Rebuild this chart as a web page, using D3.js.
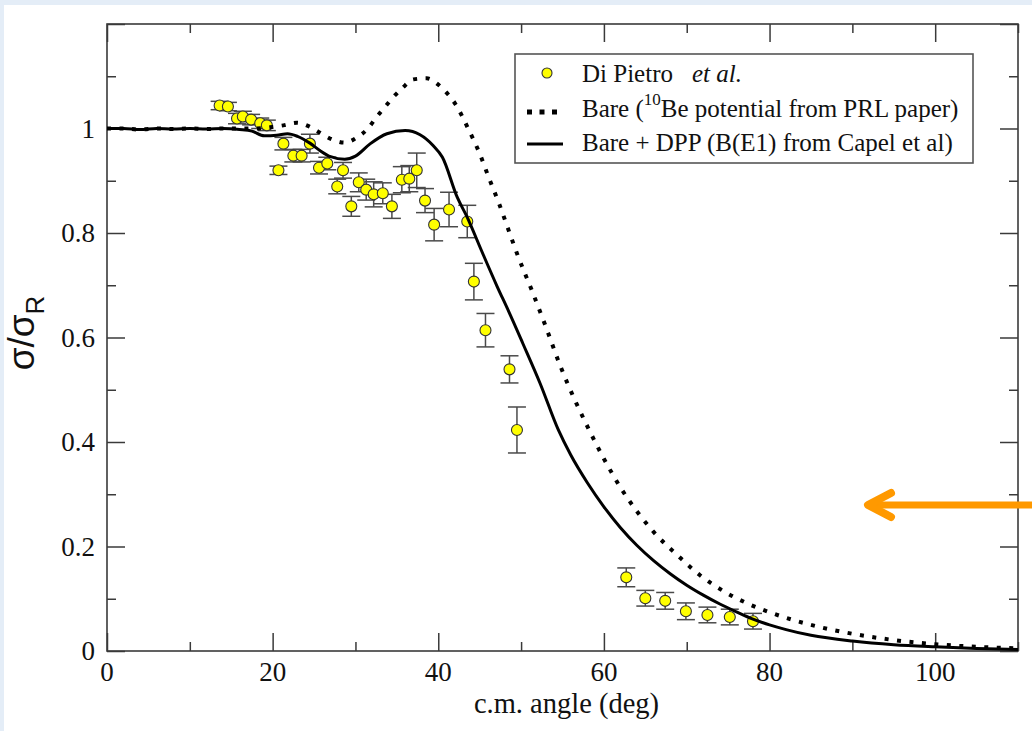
<!DOCTYPE html>
<html>
<head>
<meta charset="utf-8">
<script src="https://cdn.jsdelivr.net/npm/d3@7/dist/d3.min.js"></script>
<style>
  html, body { margin: 0; padding: 0; background: #ffffff; }
  svg { display: block; }
</style>
</head>
<body>
<svg id="chart" width="1032" height="731"></svg>
<script>
// ---------- data ----------
const expAngle = [13.6,14.6,15.7,16.4,17.4,18.5,19.3,20.7,21.3,22.5,23.5,24.5,25.6,26.6,27.8,28.5,29.5,30.4,31.3,32.2,33.3,34.4,35.6,36.5,37.4,38.4,39.5,41.3,43.5,44.3,45.7,48.6,49.5,62.7,65.0,67.4,69.9,72.5,75.2,78.0];
const expRatio = [1.044,1.042,1.019,1.023,1.017,1.010,1.006,0.920,0.971,0.948,0.948,0.971,0.925,0.933,0.889,0.920,0.851,0.897,0.883,0.874,0.876,0.851,0.902,0.904,0.920,0.862,0.816,0.845,0.822,0.707,0.614,0.539,0.423,0.141,0.101,0.096,0.076,0.069,0.065,0.057];
const expError = [0.008,0.008,0.010,0.010,0.010,0.010,0.010,0.008,0.012,0.012,0.012,0.018,0.012,0.012,0.014,0.015,0.019,0.018,0.020,0.024,0.020,0.023,0.025,0.025,0.033,0.023,0.031,0.033,0.031,0.035,0.032,0.026,0.044,0.018,0.015,0.016,0.016,0.015,0.015,0.015];

const bareAngle = [0,2,4,6,8,10,12,14,16,18,20,21.3,22.9,24.4,25.7,27.2,28.7,30.2,31.5,32.5,33.5,34.5,35.7,37,38.6,40,41.2,42.1,42.9,43.6,44.3,45,46.1,47.3,48.5,49.5,51.3,53,54.7,56.5,58,60,62,64,66,69.1,71.6,74.4,77.2,80.2,85,90,95,100,105,110];
const bareRatio = [1.0,1.0,0.998,1.0,0.999,1.0,0.999,1.0,1.0,1.0,1.003,1.006,1.011,1.004,0.992,0.979,0.973,0.983,1.0,1.021,1.04,1.059,1.078,1.094,1.096,1.084,1.065,1.046,1.023,1.0,0.977,0.952,0.906,0.858,0.805,0.761,0.69,0.62,0.547,0.48,0.43,0.368,0.313,0.267,0.228,0.18,0.145,0.115,0.092,0.073,0.05,0.033,0.021,0.013,0.008,0.005];

const dppAngle = [0,2,4,6,8,10,12,14,16,17.5,19,20.5,21.8,23,24.5,25.7,27,28.7,30,31.8,33.8,36,37.8,39.4,40.5,42.3,43.5,45.2,47.1,48.5,50.2,52.3,54.5,56,58,60,62,64,66,68,70,72,74,76,78,80,82,85,90,95,100,105,110];
const dppRatio = [1.0,1.0,0.998,1.0,0.999,1.0,0.999,1.0,0.998,0.995,0.986,0.987,0.99,0.985,0.972,0.958,0.946,0.941,0.947,0.971,0.99,0.996,0.988,0.967,0.945,0.868,0.83,0.767,0.698,0.65,0.589,0.512,0.423,0.375,0.322,0.276,0.236,0.202,0.173,0.148,0.126,0.107,0.09,0.075,0.061,0.05,0.041,0.03,0.019,0.012,0.008,0.005,0.003];

const xMajorTicks = [0,20,40,60,80,100];
const xMinorTicks = [10,30,50,70,90,110];
const yMajorTicks = [0,0.2,0.4,0.6,0.8,1.0,1.2];
const yMinorTicks = [0.1,0.3,0.5,0.7,0.9,1.1];
const yTickLabels = ["0","0.2","0.4","0.6","0.8","1"];
const legendLabels = ["Di Pietro", "Bare (", "Bare + DPP (B(E1) from Capel et al)"];

// ---------- layout ----------
const svg = d3.select("#chart");
const W = 1032, H = 731;
const L = 107, R = 1018, T = 24, B = 651;
const serif = "'Liberation Serif', 'Times New Roman', serif";
const axisColor = "#3a3a3a";

// background frame
svg.append("rect").attr("x",0).attr("y",0).attr("width",W).attr("height",H).attr("fill","#e4edf7");
svg.append("rect").attr("x",4).attr("y",5).attr("width",W-4).attr("height",H-5).attr("fill","#ffffff");

const x = d3.scaleLinear().domain([0,110]).range([L,R]);
const y = d3.scaleLinear().domain([0,1.2]).range([B,T]);

// ---------- axes (inward ticks on all four sides) ----------
function styleAxis(g){
  g.selectAll("path").remove();
  g.selectAll("line").attr("stroke",axisColor).attr("stroke-width",1.5);
  g.selectAll("text").remove();
}
svg.append("g").attr("transform",`translate(0,${B})`).call(d3.axisBottom(x).tickValues(xMajorTicks).tickSize(-18)).call(styleAxis);
svg.append("g").attr("transform",`translate(0,${B})`).call(d3.axisBottom(x).tickValues(xMinorTicks).tickSize(-9)).call(styleAxis);
svg.append("g").attr("transform",`translate(0,${T})`).call(d3.axisTop(x).tickValues(xMajorTicks).tickSize(-18)).call(styleAxis);
svg.append("g").attr("transform",`translate(0,${T})`).call(d3.axisTop(x).tickValues(xMinorTicks).tickSize(-9)).call(styleAxis);
svg.append("g").attr("transform",`translate(${L},0)`).call(d3.axisLeft(y).tickValues(yMajorTicks).tickSize(-18)).call(styleAxis);
svg.append("g").attr("transform",`translate(${L},0)`).call(d3.axisLeft(y).tickValues(yMinorTicks).tickSize(-9)).call(styleAxis);
svg.append("g").attr("transform",`translate(${R},0)`).call(d3.axisRight(y).tickValues(yMajorTicks).tickSize(-18)).call(styleAxis);
svg.append("g").attr("transform",`translate(${R},0)`).call(d3.axisRight(y).tickValues(yMinorTicks).tickSize(-9)).call(styleAxis);

svg.append("rect").attr("x",L).attr("y",T).attr("width",R-L).attr("height",B-T)
  .attr("fill","none").attr("stroke",axisColor).attr("stroke-width",1.6);

// tick labels
svg.append("g").selectAll("text").data(xMajorTicks).join("text")
  .attr("x",d=>x(d)).attr("y",681).attr("text-anchor","middle")
  .attr("font-family",serif).attr("font-size",27).attr("fill","#111")
  .text(d=>d);
svg.append("g").selectAll("text").data(yTickLabels).join("text")
  .attr("x",95).attr("y",(d,i)=>y(yMajorTicks[i])).attr("dy","0.35em").attr("text-anchor","end")
  .attr("font-family",serif).attr("font-size",27).attr("fill","#111")
  .text(d=>d);

// axis titles
svg.append("text").attr("x",(L+R)/2+4).attr("y",713).attr("text-anchor","middle")
  .attr("font-family",serif).attr("font-size",28.5).attr("fill","#111")
  .text("c.m. angle (deg)");
const yt = svg.append("text").attr("transform","translate(34,333) rotate(-90)")
  .attr("text-anchor","middle").attr("font-family","'Liberation Sans', Arial, sans-serif")
  .attr("font-size",37).attr("fill","#111");
yt.append("tspan").text("σ/σ");
yt.append("tspan").attr("dy",10).attr("font-size",26).text("R");

// ---------- data marks ----------
const pts = expAngle.map((a,i)=>({a, r: expRatio[i], e: expError[i]}));
const eb = svg.append("g").attr("stroke","#4a4a4a").attr("stroke-width",1.5);
eb.selectAll("line.v").data(pts).join("line").attr("class","v")
  .attr("x1",d=>x(d.a)).attr("x2",d=>x(d.a)).attr("y1",d=>y(d.r+d.e)).attr("y2",d=>y(d.r-d.e));
eb.selectAll("line.t").data(pts).join("line").attr("class","t")
  .attr("x1",d=>x(d.a)-9).attr("x2",d=>x(d.a)+9).attr("y1",d=>y(d.r+d.e)).attr("y2",d=>y(d.r+d.e));
eb.selectAll("line.b").data(pts).join("line").attr("class","b")
  .attr("x1",d=>x(d.a)-9).attr("x2",d=>x(d.a)+9).attr("y1",d=>y(d.r-d.e)).attr("y2",d=>y(d.r-d.e));
svg.append("g").selectAll("circle").data(pts).join("circle")
  .attr("cx",d=>x(d.a)).attr("cy",d=>y(d.r)).attr("r",5.5)
  .attr("fill","#ffff00").attr("stroke","#333").attr("stroke-width",1.1);

const line = d3.line().x(d=>x(d[0])).y(d=>y(d[1])).curve(d3.curveMonotoneX);
svg.append("path").datum(bareAngle.map((a,i)=>[a,bareRatio[i]]))
  .attr("d",line).attr("fill","none").attr("stroke","#000").attr("stroke-width",4)
  .attr("stroke-dasharray","4 8.5");
svg.append("path").datum(dppAngle.map((a,i)=>[a,dppRatio[i]]))
  .attr("d",line).attr("fill","none").attr("stroke","#000").attr("stroke-width",3);

// ---------- legend ----------
const lg = svg.append("g");
lg.append("rect").attr("x",515).attr("y",54).attr("width",458).attr("height",109)
  .attr("fill","#fff").attr("stroke","#555").attr("stroke-width",1.6);
lg.append("circle").attr("cx",547).attr("cy",73).attr("r",5).attr("fill","#ffff00").attr("stroke","#333").attr("stroke-width",1.1);
lg.append("line").attr("x1",527).attr("x2",562).attr("y1",112).attr("y2",112)
  .attr("stroke","#000").attr("stroke-width",5).attr("stroke-dasharray","5 7.5");
lg.append("line").attr("x1",527).attr("x2",563).attr("y1",144).attr("y2",144)
  .attr("stroke","#000").attr("stroke-width",3);
const t1 = lg.append("text").attr("x",582).attr("y",82).attr("font-family",serif).attr("font-size",25).attr("fill","#111");
t1.append("tspan").text(legendLabels[0]);
t1.append("tspan").attr("x",692).attr("font-style","italic").text("et al.");
const t2 = lg.append("text").attr("x",582).attr("y",117).attr("font-family",serif).attr("font-size",25).attr("fill","#111");
t2.append("tspan").text(legendLabels[1]);
t2.append("tspan").attr("dy",-12).attr("font-size",17).text("10");
t2.append("tspan").attr("dy",12).text("Be potential from PRL paper)");
lg.append("text").attr("x",582).attr("y",151).attr("font-family",serif).attr("font-size",25).attr("fill","#111")
  .text(legendLabels[2]);

// ---------- orange arrow annotation ----------
const arrow = svg.append("g").attr("stroke","#ff9900").attr("fill","none")
  .attr("stroke-linecap","round").attr("stroke-linejoin","round");
arrow.append("line").attr("x1",870).attr("x2",1040).attr("y1",505).attr("y2",505).attr("stroke-width",7);
arrow.append("polyline").attr("points","891,493 868,505 891,517").attr("stroke-width",8);
</script>
</body>
</html>
